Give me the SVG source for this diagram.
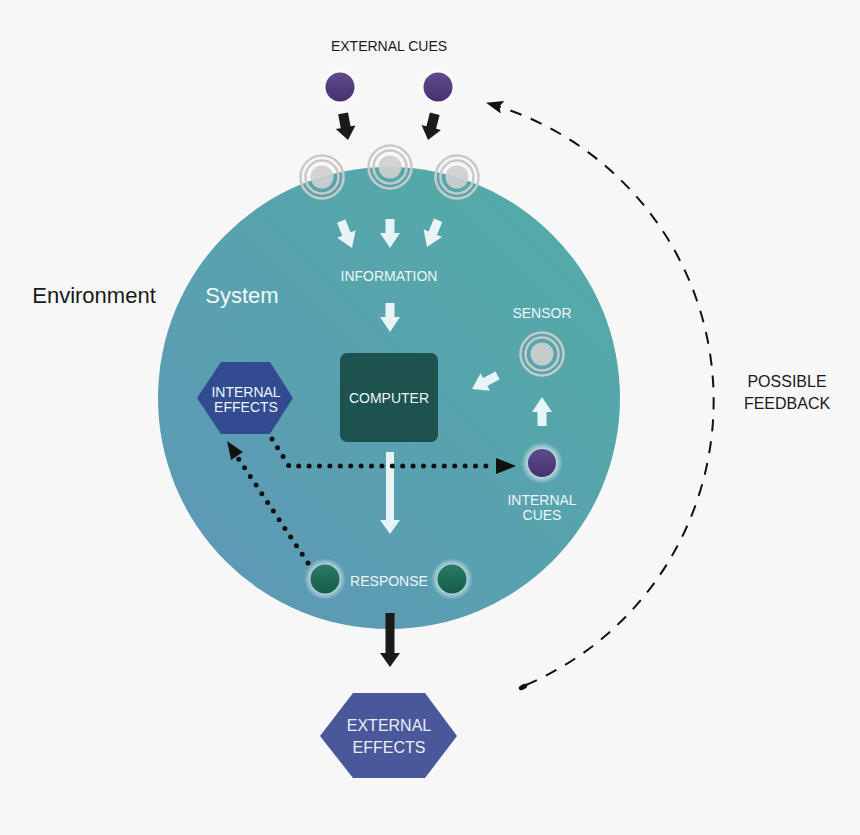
<svg xmlns="http://www.w3.org/2000/svg" xmlns:xlink="http://www.w3.org/1999/xlink" width="860" height="835" viewBox="0 0 860 835">
<style>
.lbl{font-family:"Liberation Sans",Arial,sans-serif;font-size:14px;fill:#eef6f7;text-anchor:middle}
.dark{font-family:"Liberation Sans",Arial,sans-serif;fill:#1a1a1a;text-anchor:middle}
.ring{fill:none;stroke:#c9c9c9;stroke-width:2.5}
.core{fill:#cfcfcf;fill-opacity:0.92}
.warr{fill:#eef7f8;fill-opacity:0.96}
.barr{fill:#1a1a1a}
.dots{fill:none;stroke:#111;stroke-width:5;stroke-linecap:round;stroke-dasharray:0 10.4}
</style>
<defs>
<linearGradient id="sysG" x1="0.85" y1="0.15" x2="0.15" y2="0.85">
<stop offset="0" stop-color="#53aaa8"/>
<stop offset="1" stop-color="#5d9ab5"/>
</linearGradient>
<linearGradient id="purG" x1="0" y1="0" x2="0" y2="1">
<stop offset="0" stop-color="#5f4b8e"/>
<stop offset="1" stop-color="#45306f"/>
</linearGradient>
<linearGradient id="grnG" x1="0" y1="0" x2="0" y2="1">
<stop offset="0" stop-color="#2a7b66"/>
<stop offset="1" stop-color="#155c4a"/>
</linearGradient>
<radialGradient id="glow">
<stop offset="0.6" stop-color="#ffffff" stop-opacity="0.7"/>
<stop offset="1" stop-color="#ffffff" stop-opacity="0"/>
</radialGradient>
<path id="arrW" d="M -4.5,-29 L 4.5,-29 L 4.5,-15 L 10,-15 L 0,0 L -10,-15 L -4.5,-15 Z"/>
<path id="arrB" d="M -5,-27 L 5,-27 L 5,-13 L 10,-13 L 0,0 L -10,-13 L -5,-13 Z"/>
<g id="sens">
<circle class="core" r="11.5"/>
<circle class="ring" r="16.5"/>
<circle class="ring" r="21.5"/>
</g>
<marker id="fbHead" viewBox="0 0 17 13" refX="16" refY="6.5" markerWidth="17" markerHeight="13" markerUnits="userSpaceOnUse" orient="auto">
<path d="M 0,0 L 17,6.5 L 0,13 L 3,6.5 Z" fill="#111"/>
</marker>
</defs>
<rect width="860" height="835" fill="#f7f7f7"/>

<g id="system">
<circle cx="389" cy="398" r="231" fill="url(#sysG)"/>
<text x="242" y="303" style="font-family:'Liberation Sans',Arial,sans-serif;font-size:22px;fill:#f2f8f9;text-anchor:middle">System</text>
</g>
<g id="environment">
<text x="94" y="303" class="dark" style="font-size:22px">Environment</text>
</g>

<g id="external-cues">
<text x="389" y="51" class="dark" style="font-size:14px">EXTERNAL CUES</text>
<circle cx="340" cy="87" r="21" fill="url(#glow)"/>
<circle cx="340" cy="87" r="14.5" fill="url(#purG)"/>
<circle cx="438" cy="87" r="21" fill="url(#glow)"/>
<circle cx="438" cy="87" r="14.5" fill="url(#purG)"/>
</g>

<g id="receptors">
<use xlink:href="#sens" href="#sens" x="322" y="177"/>
<use xlink:href="#sens" href="#sens" x="390" y="167"/>
<use xlink:href="#sens" href="#sens" x="457" y="177"/>
</g>

<g id="information">
<text x="389" y="281" class="lbl">INFORMATION</text>
</g>

<g id="computer">
<rect x="340" y="353" width="98" height="89" rx="7" fill="#1d524f"/>
<text x="389" y="403" class="lbl">COMPUTER</text>
</g>

<g id="sensor">
<text x="542" y="318" class="lbl">SENSOR</text>
<use xlink:href="#sens" href="#sens" x="542" y="354"/>
</g>

<g id="internal-cues">
<circle cx="542" cy="463" r="21" fill="url(#glow)"/>
<circle cx="542" cy="463" r="14" fill="url(#purG)"/>
<text x="542" y="505" class="lbl">INTERNAL</text>
<text x="542" y="520" class="lbl">CUES</text>
</g>

<g id="internal-effects">
<polygon points="197,398 221,362 270,362 293,398 270,434 221,434" fill="#334b91"/>
<text x="246" y="397" class="lbl">INTERNAL</text>
<text x="246" y="412" class="lbl">EFFECTS</text>
</g>

<g id="response">
<circle cx="325" cy="579" r="21" fill="url(#glow)"/>
<circle cx="325" cy="579" r="14.5" fill="url(#grnG)"/>
<circle cx="452" cy="579" r="21" fill="url(#glow)"/>
<circle cx="452" cy="579" r="14.5" fill="url(#grnG)"/>
<text x="389" y="586" class="lbl">RESPONSE</text>
</g>

<g id="external-effects">
<polygon points="320,736 353,693 425,693 457,736 425,778 353,778" fill="#4a579b"/>
<text x="389" y="731" class="lbl" style="font-size:16px;fill:#eceef7">EXTERNAL</text>
<text x="389" y="753" class="lbl" style="font-size:16px;fill:#eceef7">EFFECTS</text>
</g>

<g id="feedback-label">
<text x="787" y="387" class="dark" style="font-size:16px">POSSIBLE</text>
<text x="787" y="409" class="dark" style="font-size:16px">FEEDBACK</text>
</g>

<g id="connectors">
<use xlink:href="#arrB" href="#arrB" class="barr" transform="translate(348,140) rotate(-10.5)"/>
<use xlink:href="#arrB" href="#arrB" class="barr" transform="translate(428,140) rotate(14.5)"/>
<use xlink:href="#arrW" href="#arrW" class="warr" transform="translate(352,248) rotate(-21.8)"/>
<use xlink:href="#arrW" href="#arrW" class="warr" transform="translate(390,248)"/>
<use xlink:href="#arrW" href="#arrW" class="warr" transform="translate(427,247) rotate(22.6)"/>
<use xlink:href="#arrW" href="#arrW" class="warr" transform="translate(390,332)"/>
<use xlink:href="#arrW" href="#arrW" class="warr" transform="translate(472,389) rotate(62)"/>
<use xlink:href="#arrW" href="#arrW" class="warr" transform="translate(542,397) rotate(180)"/>
<path class="warr" d="M 386,452 L 394,452 L 394,520 L 400,520 L 390,534 L 380,520 L 386,520 Z"/>
<path class="barr" d="M 385.5,613 L 394.5,613 L 394.5,653 L 400,653 L 390,667 L 380,653 L 385.5,653 Z"/>
<path class="dots" d="M 272,439 L 289,466 L 493,466"/>
<polygon points="496,458 516,466 496,474" fill="#111"/>
<path class="dots" d="M 308,563 L 238,458"/>
<polygon points="227,441 242.8,452.1 231.2,459.9" fill="#111"/>
<path d="M 526,685 A 309 309 0 0 0 487,103" fill="none" stroke="#111" stroke-width="2" stroke-dasharray="12 10" marker-end="url(#fbHead)"/>
<ellipse cx="523" cy="687" rx="4.5" ry="2.5" transform="rotate(-25 523 687)" fill="#111"/>
</g>
</svg>
